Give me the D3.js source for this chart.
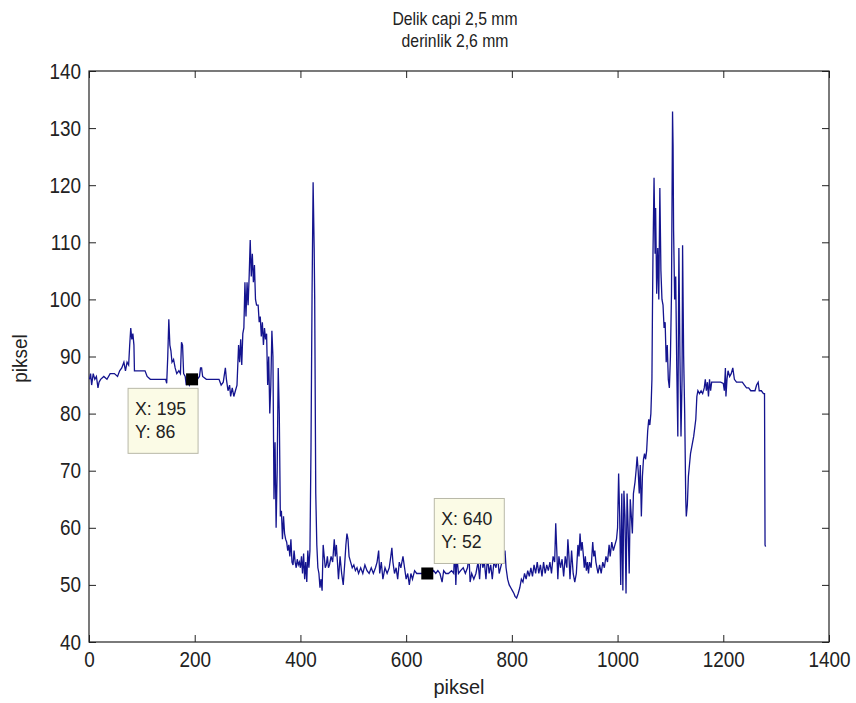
<!DOCTYPE html>
<html lang="en">
<head>
<meta charset="UTF-8">
<title>Delik capi 2,5 mm</title>
<script src="https://cdn.jsdelivr.net/npm/d3@7"></script>
<style>
    body { margin: 0; background: #fff; }
    svg text { font-family: "Liberation Sans", Arial, sans-serif; fill: #222; }
</style>
</head>
<body>
<svg id="chart" width="856" height="703"></svg>
<script>
// chart text
var titleLines = ["Delik capi 2,5 mm", "derinlik 2,6 mm"];
var xLabel = "piksel";
var yLabel = "piksel";

// axis ticks
var xTicks = [0, 200, 400, 600, 800, 1000, 1200, 1400];
var yTicks = [40, 50, 60, 70, 80, 90, 100, 110, 120, 130, 140];

// data tips shown on the plot
var tipX = [195, 640];
var tipY = [86, 52];

// profile: [x, y]
var profile = [
    [1,86],[3,87],[5,85],[8,87],[11,86],[14,86.5],[17,84.5],[19,85.5],[22,86],[28,86.5],[34,86],[40,87],
    [48,87],[54,86.5],[58,87.5],[62,88],[66,89],[69,87.5],[72,89],[75,88.5],[77,92],[79,95],[81,93],[83,94],
    [85,92],[86,87.5],[90,87.5],[100,87.5],[106,87.5],[110,86.5],[116,86],[125,86],[135,86],[145,86],[147,85.3],
    [149,90],[151,96.5],[153,92],[155,91],[157,89],[160,89.5],[163,88],[166,87],[170,87.5],[173,87],[175,92.5],
    [177,92],[179,87],[182,86.5],[184,85],[187,86],[190,85],[195,86],[200,86],[205,86],[209,86.5],[211,88],
    [213,88],[215,86.5],[222,86],[230,86],[240,86],[246,86],[250,85],[254,85.5],[258,88],[260,86],[263,84],
    [266,85],[268,83],[271,84.5],[274,83],[277,84],[280,85],[283,92],[285,89],[287,93],[289,88.5],[291,94],
    [293,95],[295,103],[297,97],[299,103],[301,99],[303,104],[305,110.4],[307,104],[309,108],[311,103],[313,106],
    [315,100],[317,99],[320,99],[322,96],[324,97],[326,93.5],[328,96],[330,92],[332,95],[334,93],[336,94],
    [338,85],[340,90],[342,80],[344,85],[346,94.5],[348,90],[350,65],[352,75],[354,60],[356,70],[358,88],
    [360,80],[362,62],[364,63],[366,58],[368,62],[370,59],[372,58],[374,57.5],[376,56],[378,57],[380,55],
    [382,58],[384,54],[386,53.5],[388,56],[390,54],[392,53],[394,54.5],[396,53.5],[398,54],[400,53],[402,55],
    [404,52],[406,55.5],[408,51],[410,54],[412,50.5],[414,56],[416,53],[418,56],[420,74],[422,101],[424,120.5],
    [426,109],[427,100],[429,66],[431,57],[433,53],[435,52],[437,49.5],[439,51],[441,49],[443,57],[445,55],
    [447,53],[449,53.5],[451,55],[453,53],[455,53.5],[458,55],[461,54],[464,58],[466,55],[468,57],[470,54],
    [472,51],[475,55],[478,52],[481,50],[484,54],[486,57],[488,59],[490,58],[492,55],[495,54],[498,53],
    [501,53.5],[504,52.5],[507,53],[510,52],[514,53],[518,52],[522,53.5],[526,52.5],[530,52],[534,53],[538,52],
    [542,53],[545,54],[548,56],[550,52],[553,54],[556,51],[560,53],[564,52],[568,53],[571,55],[573,56.5],
    [575,54],[578,52],[581,53],[584,51],[587,54],[590,53],[594,55],[597,53],[600,51],[603,52],[606,50],
    [609,52],[612,51],[616,52.5],[620,52],[625,52],[630,52],[640,52],[648,52],[652,52.5],[656,52],[660,52.5],
    [664,52],[668,50.5],[671,52.5],[675,52],[680,52],[686,52.5],[690,52],[692,56.5],[694,50],[696,55],[699,52],
    [703,52.5],[708,53],[712,52],[716,53],[719,55],[721,50.5],[724,52],[728,51],[732,52],[736,54],[739,51],
    [742,55.5],[745,53],[748,54],[751,51],[754,55],[757,52],[760,53.5],[763,51],[766,54],[770,53],[773,55],
    [776,52],[780,53.5],[784,55],[787,56],[789,53],[792,51],[795,50],[798,49.5],[801,49],[804,48.5],[806,48],
    [809,47.7],[812,48.5],[815,49.5],[818,51],[821,50.5],[824,52],[827,51],[830,52.5],[833,51.5],[836,53],
    [839,51.5],[842,53.5],[845,52],[848,54],[851,52],[854,53.5],[857,51.5],[860,54],[863,52],[866,53.5],
    [869,52.5],[872,54],[875,52],[878,55],[881,54],[883,60.8],[885,56],[887,51],[889,55],[892,53],[895,54.5],
    [898,51.5],[901,55],[904,53],[906,58],[908,55],[910,51],[913,56],[916,52],[919,50.5],[922,52],[925,57],
    [927,55],[929,59],[931,56],[933,57.5],[935,55.5],[937,53],[939,55],[941,52.5],[943,54],[945,52],[947,54],
    [950,53],[953,57.5],[955,55],[957,56],[959,54],[961,53],[963,52],[966,53.5],[969,52],[972,54],[975,53],
    [978,55],[981,54],[984,57],[986,55],[989,57.5],[992,56],[995,57],[998,58],[1000,60],[1002,69.5],[1004,62],
    [1006,50],[1008,66],[1010,49],[1012,66.5],[1014,62],[1016,48.5],[1018,66],[1020,60],[1022,52],[1024,65],
    [1026,62],[1028,59],[1030,66],[1033,68],[1035,70],[1037,72.5],[1039,70],[1041,66],[1043,71],[1045,62],
    [1047,69],[1049,72],[1051,73],[1053,72],[1055,73.5],[1057,77],[1059,79],[1061,78],[1063,80],[1065,86],
    [1066,98],[1067,108],[1069,121.3],[1071,108],[1072,116],[1074,101],[1076,109],[1078,100],[1080,119.5],
    [1082,105],[1084,100],[1086,99],[1088,95],[1090,96],[1092,89],[1094,92],[1096,86],[1098,84.5],[1100,90],
    [1102,101],[1104,132.9],[1105,127],[1106,112],[1108,100],[1110,104],[1112,88],[1114,76],[1116,109],
    [1118,90],[1120,76],[1122,86],[1123,109.5],[1125,90],[1127,80],[1129,65],[1130,62],[1132,64],[1134,69],
    [1136,71],[1138,73],[1140,74],[1142,75],[1144,76],[1146,77.5],[1148,79],[1150,83],[1152,84],[1155,83.5],
    [1158,84],[1161,83.5],[1164,84.5],[1166,86],[1168,84],[1170,85.5],[1172,83],[1174,86],[1176,84],
    [1178,85.5],[1182,85.5],[1188,85.5],[1195,85.5],[1200,85.3],[1202,84],[1204,88],[1205,83],[1207,86],
    [1209,87.5],[1212,86.5],[1215,87],[1218,88],[1221,86],[1225,85.5],[1230,85.5],[1236,85.5],[1240,85],
    [1244,84.5],[1248,84.5],[1252,84],[1256,84],[1260,84],[1263,85],[1266,85.5],[1268,84],[1272,84],
    [1276,83.5],[1278,83.5],[1279,57],[1280,56.7]
];

var margin = {top: 71, right: 27, bottom: 61, left: 89};
var width = 856 - margin.left - margin.right,
    height = 703 - margin.top - margin.bottom;

// the picture's lettering is tall and narrow, so squeeze text sideways
var squeeze = 0.86;

var svg = d3.select("#chart");
var g = svg.append("g").attr("transform", "translate(" + margin.left + "," + margin.top + ")");

var x = d3.scaleLinear().domain([0, 1400]).range([0, width]);
var y = d3.scaleLinear().domain([40, 140]).range([height, 0]);

// axes, ticks pointing inwards like matlab
var xAxis = g.append("g").attr("transform", "translate(0," + height + ")")
    .call(d3.axisBottom(x).tickValues(xTicks).tickFormat(d3.format("d")).tickSize(-7).tickPadding(9));
var yAxis = g.append("g")
    .call(d3.axisLeft(y).tickValues(yTicks).tickFormat(d3.format("d")).tickSize(-7).tickPadding(8));
var xTop = g.append("g")
    .call(d3.axisTop(x).tickValues(xTicks).tickSize(-7).tickFormat(""));
var yRight = g.append("g").attr("transform", "translate(" + width + ",0)")
    .call(d3.axisRight(y).tickValues(yTicks).tickSize(-7).tickFormat(""));

[xAxis, yAxis, xTop, yRight].forEach(function(a) {
    a.select(".domain").remove();
    a.selectAll(".tick line").attr("stroke", "#222");
});

xAxis.selectAll("text")
    .style("font-size", "22px")
    .attr("fill", "#222")
    .attr("transform", "scale(" + squeeze + ",1)");
yAxis.selectAll("text")
    .style("font-size", "22px")
    .attr("fill", "#222")
    .attr("x", -8 / squeeze)
    .attr("transform", "scale(" + squeeze + ",1)");

g.append("rect")
    .attr("width", width)
    .attr("height", height)
    .attr("fill", "none")
    .attr("stroke", "#222")
    .attr("stroke-width", 1.2);

// the profile line
var line = d3.line()
    .x(function(d) { return x(d[0]); })
    .y(function(d) { return y(d[1]); });

g.append("path")
    .datum(profile)
    .attr("d", line)
    .attr("fill", "none")
    .attr("stroke", "#14148f")
    .attr("stroke-width", 1.3);

// data tips: marker + label box
tipX.forEach(function(tx, i) {
    var px = x(tx), py = y(tipY[i]);
    g.append("rect")
        .attr("x", px - 6).attr("y", py - 6)
        .attr("width", 12).attr("height", 12)
        .attr("fill", "#000");

    var bw = 70, bh = 65;
    var bx = i === 0 ? px - 64 : px + 7;
    var by = i === 0 ? py + 9 : py - 75;
    g.append("rect")
        .attr("x", bx).attr("y", by)
        .attr("width", bw).attr("height", bh)
        .attr("fill", "#fbfbe6")
        .attr("stroke", "#b8b8a8")
        .attr("stroke-width", 1);
    [["X: ", tx, 27], ["Y: ", tipY[i], 50]].forEach(function(r) {
        g.append("text")
            .attr("transform", "translate(" + (bx + 7) + "," + (by + r[2]) + ") scale(0.93,1)")
            .style("font-size", "19px")
            .text(r[0] + r[1]);
    });
});

// titles and labels
titleLines.forEach(function(t, i) {
    svg.append("text")
        .attr("transform", "translate(" + (margin.left + width / 2 - 4) + "," + (25 + i * 22) + ") scale(0.83,1)")
        .attr("text-anchor", "middle")
        .style("font-size", "19px")
        .text(t);
});

svg.append("text")
    .attr("transform", "translate(" + (margin.left + width / 2) + ",694) scale(0.95,1)")
    .attr("text-anchor", "middle")
    .style("font-size", "21px")
    .text(xLabel);

svg.append("text")
    .attr("transform", "translate(27," + (margin.top + height / 2 + 2) + ") rotate(-90) scale(0.95,1)")
    .attr("text-anchor", "middle")
    .style("font-size", "20px")
    .text(yLabel);
</script>
</body>
</html>
